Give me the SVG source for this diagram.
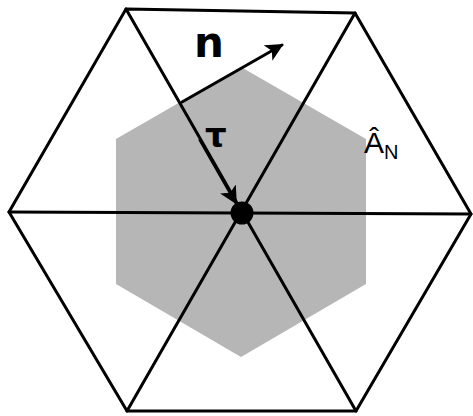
<svg xmlns="http://www.w3.org/2000/svg" width="473" height="416" viewBox="0 0 473 416">
<style>
.edge{stroke:#000;stroke-width:3;fill:none;stroke-linecap:round;stroke-linejoin:miter}
.lbl{font-family:"DejaVu Sans","Liberation Sans",sans-serif;fill:#000}
</style>
<defs>
<marker id="ah" viewBox="0 0 10 10" refX="9" refY="5" markerWidth="6" markerHeight="6" markerUnits="strokeWidth" orient="auto">
<path d="M0,0 L10,5 L0,10 L2.5,5 Z" fill="#000"/>
</marker>
</defs>
<rect width="473" height="416" fill="#fff"/>
<g id="dual-cell">
<polygon points="241,67 366,139 366,284 241,357 116,284 116,139" fill="#b6b6b6"/>
</g>
<g id="hexagon">
<polygon class="edge" points="126,9 355,13 471,214 356,411 127,411 9,212"/>
</g>
<g id="connectors">
<line class="edge" x1="9" y1="212" x2="471" y2="214"/>
<line class="edge" x1="126" y1="9" x2="356" y2="411"/>
<line class="edge" x1="355" y1="13" x2="127" y2="411"/>
<line class="edge" x1="182" y1="102" x2="282" y2="45" marker-end="url(#ah)"/>
<line class="edge" x1="200" y1="140" x2="236" y2="203" marker-end="url(#ah)"/>
</g>
<g id="center-node">
<circle cx="242" cy="213" r="11.5" fill="#000"/>
</g>
<g id="labels">
<text class="lbl" x="194" y="57" font-size="42" font-weight="bold">n</text>
<text class="lbl" x="205" y="147" font-size="34" font-weight="bold">τ</text>
<text x="364" y="153" font-family="Liberation Sans, Arial, sans-serif" font-size="30">Â<tspan font-size="20" dy="6">N</tspan></text>
</g>
</svg>
